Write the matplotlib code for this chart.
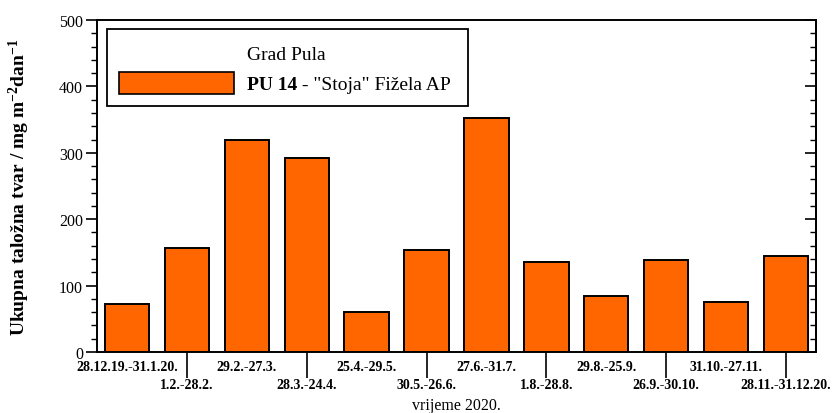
import matplotlib
matplotlib.use("Agg")
import matplotlib.pyplot as plt
from matplotlib.patches import Rectangle
from matplotlib.ticker import MultipleLocator, FixedLocator

periods = ["28.12.19.-31.1.20.", "1.2.-28.2.", "29.2.-27.3.", "28.3.-24.4.",
           "25.4.-29.5.", "30.5.-26.6.", "27.6.-31.7.", "1.8.-28.8.",
           "29.8.-25.9.", "26.9.-30.10.", "31.10.-27.11.", "28.11.-31.12.20."]
values = [72, 157, 319, 292, 60, 154, 352, 136, 84, 139, 75, 145]
y_ticks = [0, 100, 200, 300, 400, 500]
title_station = "Grad Pula"
station_bold = "PU 14"
station_rest = " - \"Stoja\" Fižela AP"
xlabel = "vrijeme 2020."
ylabel = "Ukupna taložna tvar / mg m$^{-2}$dan$^{-1}$"

plt.rcParams['font.family'] = ['Liberation Serif', 'DejaVu Serif']
plt.rcParams['mathtext.fontset'] = 'custom'
plt.rcParams['mathtext.rm'] = 'Liberation Serif:bold'
plt.rcParams['mathtext.it'] = 'Liberation Serif:bold'
plt.rcParams['mathtext.bf'] = 'Liberation Serif:bold'

fig = plt.figure(figsize=(8.34, 4.14), dpi=100)
ax = fig.add_axes([97/834, 1-353/414, (816-97)/834, (353-21)/414])

x = list(range(len(values)))
ax.bar(x, values, width=0.74, color='#FF6600', edgecolor='black', linewidth=1.4, zorder=2)

ax.set_xlim(-0.5, len(values) - 0.5)
ax.set_ylim(0, 500)
for s in ax.spines.values():
    s.set_linewidth(1.4)

# y axis: outward ticks on left
ax.yaxis.set_major_locator(FixedLocator(y_ticks))
ax.yaxis.set_minor_locator(MultipleLocator(20))
ax.tick_params(axis='y', which='major', direction='out', length=8, width=1.2,
               labelsize=11.5, pad=2)
ax.tick_params(axis='y', which='minor', direction='out', length=4, width=1.0)

# right side inward ticks
sec = ax.secondary_yaxis('right')
sec.yaxis.set_major_locator(FixedLocator(y_ticks))
sec.yaxis.set_minor_locator(MultipleLocator(20))
sec.tick_params(axis='y', which='major', direction='in', length=8, width=1.2, labelright=False)
sec.tick_params(axis='y', which='minor', direction='in', length=4, width=1.0)
sec.spines['right'].set_linewidth(1.4)

# x axis: upper row labels (even idx) as minor, lower row (odd idx) as major with long ticks
ax.xaxis.set_major_locator(FixedLocator(x[1::2]))
ax.xaxis.set_minor_locator(FixedLocator(x[0::2]))
ax.set_xticklabels(periods[1::2])
ax.set_xticklabels(periods[0::2], minor=True)
ax.tick_params(axis='x', which='major', direction='out', length=19, width=1.2,
               labelsize=10, pad=0)
ax.tick_params(axis='x', which='minor', length=0, labelsize=10, pad=6)
for lab in ax.get_xticklabels(which='both'):
    lab.set_fontweight('bold')

ax.set_xlabel(xlabel, fontsize=11.5, labelpad=0)
ax.xaxis.set_label_coords(0.5, -0.136)
ax.set_ylabel(ylabel, fontsize=14, fontweight='bold')
ax.yaxis.set_label_coords(-0.09, 0.5)

# legend box drawn manually
fig.patches.append(Rectangle((107/834, 1-107/414), (468-107)/834, (107-30)/414,
                             transform=fig.transFigure, fill=False,
                             edgecolor='black', linewidth=1.3))
fig.patches.append(Rectangle((119/834, 1-95/414), (234-119)/834, (95-73)/414,
                             transform=fig.transFigure, facecolor='#FF6600',
                             edgecolor='black', linewidth=1.2))
fig.text(247/834, 1-56/414, title_station, fontsize=14, va='center', ha='left')
t1 = fig.text(247/834, 1-85/414, station_bold, fontsize=14, fontweight='bold',
              va='center', ha='left')
ax.annotate(station_rest, xy=(1, 0.5), xycoords=t1, va='center', ha='left',
            fontsize=14, annotation_clip=False)

fig.savefig("out.png", dpi=100)
